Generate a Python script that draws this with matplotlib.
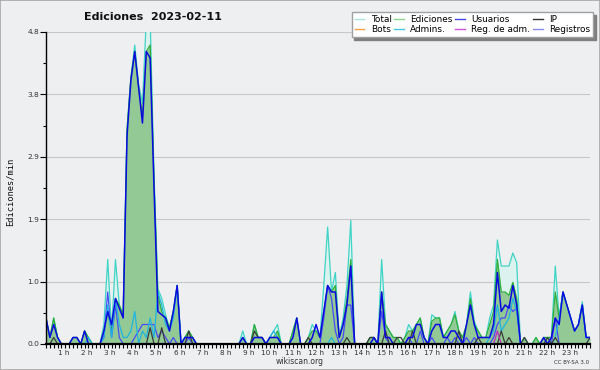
import matplotlib
matplotlib.use("Agg")
import matplotlib.pyplot as plt
from matplotlib.lines import Line2D
from matplotlib.patches import Rectangle
import numpy as np

# valores por intervalo de 10 minutos (ediciones/min), 00:00 -> 23:30
total = [
    0.4, 0.1, 0.4, 0.1, 0.0, 0.0,
    0.0, 0.1, 0.1, 0.0, 0.2, 0.1,
    0.0, 0.0, 0.0, 0.3, 1.3, 0.2,
    1.3, 0.6, 0.45, 3.3, 4.1, 4.6,
    4.0, 3.7, 5.0, 5.0, 2.6, 0.85,
    0.7, 0.45, 0.25, 0.5, 0.9, 0.0,
    0.1, 0.2, 0.1, 0.0, 0.0, 0.0,
    0.0, 0.0, 0.0, 0.0, 0.0, 0.0,
    0.0, 0.0, 0.0, 0.2, 0.0, 0.0,
    0.3, 0.1, 0.1, 0.0, 0.1, 0.2,
    0.3, 0.0, 0.0, 0.0, 0.2, 0.4,
    0.0, 0.0, 0.1, 0.3, 0.2, 0.1,
    0.9, 1.8, 0.8, 1.1, 0.1, 0.4,
    0.9, 1.9, 0.0, 0.0, 0.0, 0.0,
    0.1, 0.1, 0.0, 1.3, 0.3, 0.2,
    0.1, 0.1, 0.0, 0.1, 0.3, 0.2,
    0.3, 0.4, 0.1, 0.0, 0.45, 0.4,
    0.4, 0.1, 0.2, 0.3, 0.5, 0.2,
    0.1, 0.3, 0.8, 0.35, 0.2, 0.1,
    0.1, 0.4, 0.6, 1.6, 1.2, 1.2,
    1.2, 1.4, 1.25, 0.0, 0.1, 0.0,
    0.0, 0.1, 0.0, 0.1, 0.1, 0.1,
    1.2, 0.4, 0.8, 0.6, 0.4, 0.2,
    0.3, 0.65, 0.1, 0.1,
]
ediciones = [
    0.4, 0.1, 0.4, 0.1, 0.0, 0.0,
    0.0, 0.1, 0.1, 0.0, 0.2, 0.1,
    0.0, 0.0, 0.0, 0.2, 0.5, 0.2,
    0.7, 0.6, 0.45, 3.3, 4.1, 4.5,
    3.95, 3.5, 4.5, 4.6, 2.5, 0.75,
    0.5, 0.4, 0.25, 0.5, 0.9, 0.0,
    0.1, 0.2, 0.1, 0.0, 0.0, 0.0,
    0.0, 0.0, 0.0, 0.0, 0.0, 0.0,
    0.0, 0.0, 0.0, 0.1, 0.0, 0.0,
    0.3, 0.1, 0.1, 0.0, 0.1, 0.1,
    0.2, 0.0, 0.0, 0.0, 0.2, 0.4,
    0.0, 0.0, 0.1, 0.2, 0.2, 0.1,
    0.5, 0.9, 0.8, 0.9, 0.1, 0.3,
    0.7, 1.3, 0.0, 0.0, 0.0, 0.0,
    0.1, 0.1, 0.0, 0.8, 0.3, 0.2,
    0.1, 0.1, 0.0, 0.1, 0.2, 0.2,
    0.3, 0.4, 0.1, 0.0, 0.35, 0.4,
    0.4, 0.1, 0.2, 0.3, 0.45, 0.2,
    0.1, 0.3, 0.7, 0.3, 0.2, 0.1,
    0.1, 0.3, 0.5, 1.3, 0.8, 0.8,
    0.75, 0.95, 0.7, 0.0, 0.1, 0.0,
    0.0, 0.1, 0.0, 0.1, 0.1, 0.1,
    0.8, 0.4, 0.8, 0.6, 0.4, 0.2,
    0.3, 0.6, 0.1, 0.1,
]
usuarios = [
    0.4, 0.1, 0.3, 0.1, 0.0, 0.0,
    0.0, 0.1, 0.1, 0.0, 0.2, 0.0,
    0.0, 0.0, 0.0, 0.2, 0.5, 0.3,
    0.7, 0.55, 0.4, 3.2, 4.05, 4.5,
    3.95, 3.4, 4.5, 4.4, 2.4, 0.5,
    0.45, 0.4, 0.2, 0.5, 0.9, 0.0,
    0.1, 0.1, 0.1, 0.0, 0.0, 0.0,
    0.0, 0.0, 0.0, 0.0, 0.0, 0.0,
    0.0, 0.0, 0.0, 0.1, 0.0, 0.0,
    0.1, 0.1, 0.1, 0.0, 0.1, 0.1,
    0.1, 0.0, 0.0, 0.0, 0.1, 0.4,
    0.0, 0.0, 0.0, 0.1, 0.3, 0.1,
    0.5, 0.9, 0.8, 0.8, 0.1, 0.3,
    0.6, 1.2, 0.0, 0.0, 0.0, 0.0,
    0.0, 0.1, 0.0, 0.8, 0.1, 0.1,
    0.0, 0.0, 0.0, 0.0, 0.1, 0.1,
    0.3, 0.3, 0.1, 0.0, 0.2, 0.3,
    0.3, 0.1, 0.1, 0.2, 0.2, 0.1,
    0.0, 0.3, 0.6, 0.3, 0.1, 0.1,
    0.1, 0.1, 0.3, 1.1, 0.5, 0.6,
    0.55, 0.9, 0.6, 0.0, 0.0, 0.0,
    0.0, 0.0, 0.0, 0.1, 0.0, 0.1,
    0.4, 0.3, 0.8, 0.6, 0.4, 0.2,
    0.3, 0.6, 0.1, 0.1,
]
ip = [
    0.0, 0.0, 0.1, 0.0, 0.0, 0.0,
    0.0, 0.0, 0.0, 0.0, 0.0, 0.0,
    0.0, 0.0, 0.0, 0.0, 0.0, 0.0,
    0.0, 0.0, 0.0, 0.0, 0.0, 0.0,
    0.0, 0.0, 0.0, 0.25, 0.0, 0.0,
    0.25, 0.0, 0.0, 0.0, 0.0, 0.0,
    0.0, 0.2, 0.0, 0.0, 0.0, 0.0,
    0.0, 0.0, 0.0, 0.0, 0.0, 0.0,
    0.0, 0.0, 0.0, 0.0, 0.0, 0.0,
    0.2, 0.1, 0.1, 0.0, 0.0, 0.0,
    0.0, 0.0, 0.0, 0.0, 0.0, 0.0,
    0.0, 0.0, 0.1, 0.0, 0.0, 0.0,
    0.0, 0.0, 0.0, 0.0, 0.0, 0.0,
    0.1, 0.0, 0.0, 0.0, 0.0, 0.0,
    0.1, 0.1, 0.0, 0.0, 0.2, 0.0,
    0.0, 0.1, 0.1, 0.0, 0.0, 0.2,
    0.0, 0.0, 0.0, 0.0, 0.0, 0.0,
    0.0, 0.0, 0.0, 0.0, 0.0, 0.2,
    0.0, 0.0, 0.0, 0.0, 0.1, 0.0,
    0.0, 0.0, 0.0, 0.0, 0.2, 0.0,
    0.1, 0.0, 0.0, 0.0, 0.1, 0.0,
    0.0, 0.0, 0.0, 0.0, 0.1, 0.0,
    0.1, 0.0, 0.0, 0.0, 0.0, 0.0,
    0.0, 0.0, 0.0, 0.1,
]
admins = [
    0.0, 0.0, 0.0, 0.0, 0.0, 0.0,
    0.0, 0.0, 0.0, 0.0, 0.0, 0.1,
    0.0, 0.0, 0.0, 0.1, 0.6, 0.1,
    0.7, 0.3, 0.1, 0.1, 0.2, 0.5,
    0.0, 0.2, 0.1, 0.4, 0.1, 0.8,
    0.6, 0.3, 0.2, 0.4, 0.9, 0.0,
    0.0, 0.0, 0.0, 0.0, 0.0, 0.0,
    0.0, 0.0, 0.0, 0.0, 0.0, 0.0,
    0.0, 0.0, 0.0, 0.0, 0.0, 0.0,
    0.0, 0.0, 0.0, 0.0, 0.1, 0.2,
    0.1, 0.0, 0.0, 0.0, 0.0, 0.0,
    0.0, 0.0, 0.0, 0.0, 0.0, 0.0,
    0.0, 0.0, 0.1, 0.0, 0.0, 0.0,
    0.0, 0.0, 0.0, 0.0, 0.0, 0.0,
    0.0, 0.0, 0.0, 0.0, 0.0, 0.0,
    0.0, 0.0, 0.0, 0.0, 0.0, 0.0,
    0.0, 0.0, 0.0, 0.0, 0.0, 0.0,
    0.0, 0.0, 0.0, 0.0, 0.0, 0.0,
    0.0, 0.0, 0.0, 0.0, 0.0, 0.0,
    0.0, 0.1, 0.2, 0.6, 0.2, 0.3,
    0.4, 0.7, 0.5, 0.0, 0.0, 0.0,
    0.0, 0.0, 0.0, 0.0, 0.0, 0.0,
    0.1, 0.4, 0.8, 0.6, 0.4, 0.2,
    0.3, 0.6, 0.1, 0.1,
]
registros = [
    0.0, 0.0, 0.0, 0.0, 0.0, 0.0,
    0.0, 0.0, 0.0, 0.0, 0.0, 0.0,
    0.0, 0.0, 0.0, 0.1, 0.8, 0.1,
    0.6, 0.1, 0.0, 0.0, 0.0, 0.1,
    0.2, 0.3, 0.3, 0.3, 0.3, 0.1,
    0.2, 0.1, 0.0, 0.1, 0.0, 0.0,
    0.0, 0.1, 0.0, 0.0, 0.0, 0.0,
    0.0, 0.0, 0.0, 0.0, 0.0, 0.0,
    0.0, 0.0, 0.0, 0.0, 0.0, 0.0,
    0.0, 0.0, 0.0, 0.0, 0.0, 0.0,
    0.0, 0.0, 0.0, 0.0, 0.0, 0.0,
    0.0, 0.0, 0.0, 0.0, 0.0, 0.0,
    0.4, 0.9, 0.7, 0.2, 0.0, 0.1,
    0.6, 0.6, 0.0, 0.0, 0.0, 0.0,
    0.0, 0.0, 0.0, 0.5, 0.1, 0.0,
    0.0, 0.0, 0.0, 0.0, 0.1, 0.0,
    0.0, 0.2, 0.0, 0.0, 0.1, 0.0,
    0.0, 0.0, 0.1, 0.0, 0.1, 0.0,
    0.0, 0.1, 0.0, 0.1, 0.0, 0.0,
    0.0, 0.0, 0.1, 0.3, 0.4, 0.4,
    0.6, 0.5, 0.55, 0.0, 0.0, 0.0,
    0.0, 0.0, 0.0, 0.0, 0.0, 0.0,
    0.4, 0.0, 0.0, 0.0, 0.0, 0.0,
    0.0, 0.0, 0.0, 0.0,
]
reg_adm = [0.0] * 117 + [0.2] + [0.0] * 24
bots = [0.0] * 142

hour_labels = [f"{h} h" for h in range(1, 24)]
title = "Ediciones  2023-02-11"

BG = "#eeeff1"

fig = plt.figure(figsize=(6, 3.7), dpi=100, facecolor=BG)
ax = fig.add_axes([46 / 600, 1 - 344 / 370, 544 / 600, 312 / 370], facecolor=BG)

x = np.arange(len(total))

ax.fill_between(x, total, color="#dcf2ee", lw=0, zorder=1)
ax.fill_between(x, ediciones, color="#92c995", lw=0, zorder=2)
ax.plot(x, bots, color="#f0a030", lw=0.9, zorder=3)
ax.plot(x, total, color="#3fd4c6", lw=0.9, zorder=3)
ax.plot(x, ediciones, color="#2fae3a", lw=0.9, zorder=3)
ax.plot(x, registros, color="#4a4af5", lw=0.9, zorder=4)
ax.plot(x, admins, color="#1fb4e0", lw=0.9, zorder=4)
ax.plot(x, ip, color="#3a3a3a", lw=0.9, zorder=4)
ax.plot(x, reg_adm, color="#c02cc0", lw=0.9, zorder=4)
ax.plot(x, usuarios, color="#0a0ae0", lw=1.1, zorder=5)

ax.set_xlim(0, len(total) - 1)
ax.set_ylim(0, 4.8)

# eje y
yt = [0.96 * k for k in range(6)]
ax.set_yticks(yt)
ax.set_yticklabels([f"{v:.1f}" for v in yt], fontsize=5.4, color="#333333")
ax.set_yticks([0.48 + 0.96 * k for k in range(5)], minor=True)
ax.tick_params(axis="y", which="major", length=4, width=0.8, pad=1)
ax.tick_params(axis="y", which="minor", length=2.5, width=0.8)
ax.grid(axis="y", color="#c8c8c8", lw=0.8, zorder=0)

# eje x
ax.set_xticks([6 * h for h in range(1, 24)])
ax.set_xticklabels(hour_labels, fontsize=5.2, color="#333333")
for lab in ax.get_xticklabels():
    lab.set_ha("right")
ax.set_xticks(x, minor=True)
ax.tick_params(axis="x", which="both", length=3, width=0.8, pad=1.5, direction="out")

for s in ["top", "right"]:
    ax.spines[s].set_visible(False)
ax.spines["left"].set_linewidth(1.0)
ax.spines["bottom"].set_linewidth(1.6)
for s in ["left", "bottom"]:
    ax.spines[s].set_zorder(10)
ax.set_axisbelow(True)

fig.text(10 / 600, 1 - 192 / 370, "Ediciones/min", rotation=90, ha="center", va="center",
         fontsize=6.3, family="DejaVu Sans Mono", color="#111111")
fig.text(153 / 600, 1 - 17 / 370, title, ha="center", va="center",
         fontsize=8, fontweight="bold", color="#111111")
fig.text(300 / 600, 1 - 361 / 370, "wikiscan.org", ha="center", va="center",
         fontsize=5.5, color="#333333")
fig.text(589 / 600, 1 - 362 / 370, "CC BY-SA 3.0", ha="right", va="center",
         fontsize=4, color="#333333")

# leyenda
names = ["Total", "Bots", "Ediciones", "Admins.", "Usuarios", "Reg. de adm.", "IP", "Registros"]
cols = ["#a8e4dc", "#f4a040", "#8ed48e", "#48c8e0", "#4646e6", "#d050d8", "#333333", "#8a8af0"]
handles = [Line2D([], [], color=c, lw=1) for c in cols]
fig.legend(handles, names, ncol=4, loc="upper right", bbox_to_anchor=(593 / 600, 1 - 12 / 370),
           fontsize=6.4, frameon=True, fancybox=False, edgecolor="#a0a0a0", facecolor="white",
           framealpha=1, shadow={"color": "#7f7f7f", "alpha": 1}, handlelength=1.1,
           handletextpad=0.7, columnspacing=0.3, labelspacing=0.1, borderpad=0.35,
           borderaxespad=0)

fig.patches.append(Rectangle((0, 0), 1, 1, transform=fig.transFigure, fill=False,
                             edgecolor="#a8a8a8", lw=1.2))

fig.savefig("out.png", dpi=100, facecolor=BG)
